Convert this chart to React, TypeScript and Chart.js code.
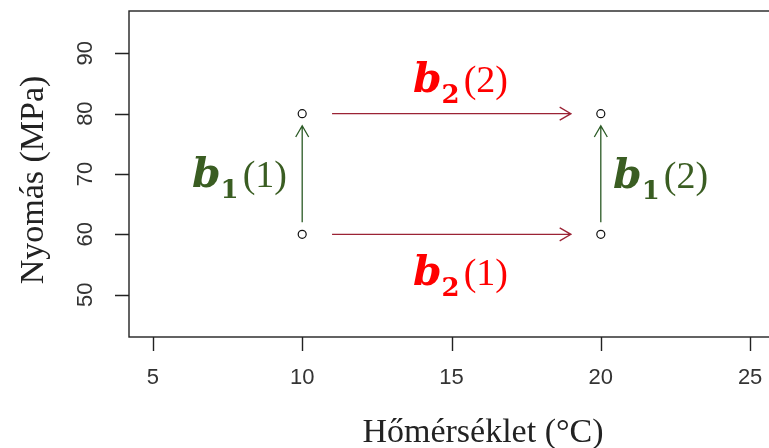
import React, { useEffect, useRef } from "react";
import { Chart, registerables } from "chart.js";

Chart.register(...registerables);

// ---- data ----
const pointX = [10, 10, 20, 20];
const pointY = [60, 80, 60, 80];

const xTicks = [5, 10, 15, 20, 25];
const yTicks = [50, 60, 70, 80, 90];
const xRange = [4.2, 25.8];
const yRange = [43, 97];

// horizontal (red) arrows: b2
const redArrowX0 = [11, 11];
const redArrowX1 = [19, 19];
const redArrowY = [60, 80];

// vertical (green) arrows: b1
const greenArrowX = [10, 20];
const greenArrowY0 = [62, 62];
const greenArrowY1 = [78, 78];

// annotation labels
const labelMain = ["b", "b", "b", "b"];
const labelSub = ["2", "2", "1", "1"];
const labelArg = ["(2)", "(1)", "(1)", "(2)"];
const labelX = [15.3, 15.3, 7.9, 22.0];
const labelY = [83.6, 51.6, 67.85, 67.7];
const labelKind = ["red", "red", "green", "green"];

const xTitle = "Hőmérséklet (°C)";
const yTitle = "Nyomás (MPa)";

// ---- styles ----
const RED_TEXT = "#ff0000";
const GREEN_TEXT = "#3a5d22";
const RED_ARROW = "#9b2335";
const GREEN_ARROW = "#2b5a25";
const AXIS = "#222222";
const TICK_TEXT = "#333333";

function drawArrow(ctx: CanvasRenderingContext2D, x0: number, y0: number, x1: number, y1: number, color: string) {
  const len = 13;
  const ang = Math.PI / 6;
  const a = Math.atan2(y1 - y0, x1 - x0);
  ctx.save();
  ctx.strokeStyle = color;
  ctx.lineWidth = 1.3;
  ctx.beginPath();
  ctx.moveTo(x0, y0);
  ctx.lineTo(x1, y1);
  ctx.moveTo(x1 - len * Math.cos(a - ang), y1 - len * Math.sin(a - ang));
  ctx.lineTo(x1, y1);
  ctx.lineTo(x1 - len * Math.cos(a + ang), y1 - len * Math.sin(a + ang));
  ctx.stroke();
  ctx.restore();
}

const framePlugin = {
  id: "rframe",
  beforeDatasetsDraw(chart: any) {
    const { ctx, chartArea } = chart;
    const xs = chart.scales.x;
    const ys = chart.scales.y;
    ctx.save();
    // box
    ctx.strokeStyle = AXIS;
    ctx.lineWidth = 1.4;
    ctx.strokeRect(chartArea.left, chartArea.top, chartArea.right - chartArea.left, chartArea.bottom - chartArea.top);
    // ticks
    ctx.beginPath();
    xTicks.forEach((t) => {
      const px = Math.round(xs.getPixelForValue(t)) + 0.5;
      ctx.moveTo(px, chartArea.bottom);
      ctx.lineTo(px, chartArea.bottom + 14);
    });
    yTicks.forEach((t) => {
      const py = Math.round(ys.getPixelForValue(t)) + 0.5;
      ctx.moveTo(chartArea.left, py);
      ctx.lineTo(chartArea.left - 14, py);
    });
    ctx.stroke();
    ctx.font = "22px 'Liberation Sans', Arial, sans-serif";
    ctx.fillStyle = TICK_TEXT;
    ctx.textAlign = "center";
    ctx.textBaseline = "middle";
    xTicks.forEach((t) => {
      ctx.fillText(String(t), xs.getPixelForValue(t), chartArea.bottom + 41);
    });
    yTicks.forEach((t) => {
      ctx.save();
      ctx.translate(chartArea.left - 43, ys.getPixelForValue(t));
      ctx.rotate(-Math.PI / 2);
      ctx.fillText(String(t), 0, 0);
      ctx.restore();
    });
    // titles
    ctx.fillStyle = "#222222";
    ctx.font = "34px 'Liberation Serif', 'Times New Roman', serif";
    ctx.textBaseline = "alphabetic";
    ctx.fillText(xTitle, 483, 442);
    ctx.save();
    ctx.translate(43, 180);
    ctx.rotate(-Math.PI / 2);
    ctx.font = "34px 'Liberation Serif', 'Times New Roman', serif";
    ctx.fillText(yTitle, 0, 0);
    ctx.restore();
    ctx.restore();
  },
  afterDatasetsDraw(chart: any) {
    const { ctx } = chart;
    const xs = chart.scales.x;
    const ys = chart.scales.y;
    redArrowY.forEach((y, i) => {
      drawArrow(ctx, xs.getPixelForValue(redArrowX0[i]), ys.getPixelForValue(y), xs.getPixelForValue(redArrowX1[i]), ys.getPixelForValue(y), RED_ARROW);
    });
    greenArrowX.forEach((x, i) => {
      drawArrow(ctx, xs.getPixelForValue(x), ys.getPixelForValue(greenArrowY0[i]), xs.getPixelForValue(x), ys.getPixelForValue(greenArrowY1[i]), GREEN_ARROW);
    });
    const fMain = "italic bold 41px 'DejaVu Serif', serif";
    const fSub = "bold 26px 'DejaVu Serif', serif";
    const fArg = "38px 'Liberation Serif', 'Times New Roman', serif";
    labelMain.forEach((m, i) => {
      ctx.save();
      ctx.fillStyle = labelKind[i] === "red" ? RED_TEXT : GREEN_TEXT;
      ctx.textBaseline = "alphabetic";
      ctx.textAlign = "left";
      ctx.font = fMain;
      const wM = ctx.measureText(m).width;
      ctx.font = fSub;
      const wS = ctx.measureText(labelSub[i]).width;
      ctx.font = fArg;
      const wA = ctx.measureText(labelArg[i]).width;
      const gap = 4;
      const total = wM + wS + gap + wA;
      let x = xs.getPixelForValue(labelX[i]) - total / 2;
      const y = ys.getPixelForValue(labelY[i]);
      ctx.font = fMain;
      ctx.fillText(m, x, y);
      x += wM;
      ctx.font = fSub;
      ctx.fillText(labelSub[i], x, y + 11);
      x += wS + gap;
      ctx.font = fArg;
      ctx.fillText(labelArg[i], x, y);
      ctx.restore();
    });
  },
};

export default function App() {
  const ref = useRef<HTMLCanvasElement | null>(null);
  useEffect(() => {
    document.body.style.margin = "0";
    document.body.style.overflow = "hidden";
    const canvas = ref.current;
    if (!canvas) return;
    const chart = new Chart(canvas, {
      type: "scatter",
      data: {
        datasets: [
          {
            data: pointX.map((x, i) => ({ x, y: pointY[i] })),
            pointStyle: "circle",
            pointRadius: 4,
            pointBackgroundColor: "rgba(255,255,255,0)",
            pointBorderColor: "#111111",
            pointBorderWidth: 1.2,
            showLine: false,
          },
        ],
      },
      options: {
        animation: false,
        responsive: false,
        devicePixelRatio: 1,
        layout: { padding: { left: 129, top: 11, right: 6, bottom: 111 } },
        plugins: { legend: { display: false }, tooltip: { enabled: false } },
        scales: {
          x: { type: "linear", min: xRange[0], max: xRange[1], display: false },
          y: { type: "linear", min: yRange[0], max: yRange[1], display: false },
        },
      },
      plugins: [framePlugin],
    });
    return () => chart.destroy();
  }, []);
  return (
    <div style={{ width: 769, height: 448, overflow: "hidden", position: "relative", background: "#fff" }}>
      <canvas ref={ref} width={780} height={448} style={{ width: 780, height: 448, display: "block" }} />
    </div>
  );
}
